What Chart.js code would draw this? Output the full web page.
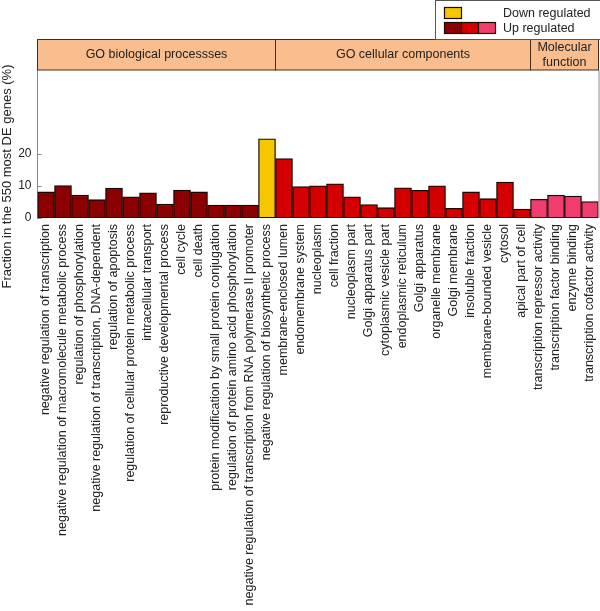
<!DOCTYPE html>
<html lang="en">
<head>
  <meta charset="UTF-8" />
  <title>GO enrichment</title>
  <script src="https://cdn.jsdelivr.net/npm/chart.js"></script>
  <style>
    html, body { margin: 0; padding: 0; background: #ffffff; }
    #wrap { width: 600px; height: 611px; }
  </style>
</head>
<body>
  <div id="wrap"><canvas id="goChart" width="600" height="611"></canvas></div>

  <script>
    const categories = [
      "negative regulation of transcription",
      "negative regulation of macromolecule metabolic process",
      "regulation of phosphorylation",
      "negative regulation of transcription, DNA-dependent",
      "regulation of apoptosis",
      "regulation of cellular protein metabolic process",
      "intracellular transport",
      "reproductive developmental process",
      "cell cycle",
      "cell death",
      "protein modification by small protein conjugation",
      "regulation of protein amino acid phosphorylation",
      "negative regulation of transcription from RNA polymerase II promoter",
      "negative regulation of biosynthetic process",
      "membrane-enclosed lumen",
      "endomembrane system",
      "nucleoplasm",
      "cell fraction",
      "nucleoplasm part",
      "Golgi apparatus part",
      "cytoplasmic vesicle part",
      "endoplasmic reticulum",
      "Golgi apparatus",
      "organelle membrane",
      "Golgi membrane",
      "insoluble fraction",
      "membrane-bounded vesicle",
      "cytosol",
      "apical part of cell",
      "transcription repressor activity",
      "transcription factor binding",
      "enzyme binding",
      "transcription cofactor activity"
    ];

    const values = [
      8.1, 10.1, 7.1, 5.7, 9.3, 6.6, 7.8, 4.3, 8.7, 8.1, 4.0, 4.0, 4.0, 24.6,
      18.5, 9.8, 10.0, 10.6, 6.6, 4.2, 3.2, 9.4, 8.6, 10.0, 3.0, 8.1, 6.0, 11.2, 2.8,
      5.8, 7.1, 6.8, 5.1
    ];

    // BP = biological process, CC = cellular component, MF = molecular function
    const ontology = [
      "BP","BP","BP","BP","BP","BP","BP","BP","BP","BP","BP","BP","BP","BP",
      "CC","CC","CC","CC","CC","CC","CC","CC","CC","CC","CC","CC","CC","CC","CC",
      "MF","MF","MF","MF"
    ];

    const regulation = [
      "up","up","up","up","up","up","up","up","up","up","up","up","up","down",
      "up","up","up","up","up","up","up","up","up","up","up","up","up","up","up",
      "up","up","up","up"
    ];

    const groupOrder = ["BP", "CC", "MF"];
    const groupTitles = [["GO biological processses"], ["GO cellular components"], ["Molecular", "function"]];
    const legendLabels = ["Down regulated", "Up regulated"];
    const yTicks = [0, 10, 20];
    const yMax = 46;
    const yTitle = "Fraction in the 550 most DE genes (%)";

    const upColors = { BP: "#8b0000", CC: "#d40000", MF: "#f03c6e" };
    const downColor = "#f6c700";
    const FONT = "'Liberation Sans', Arial, sans-serif";

    const barColors = categories.map((c, i) =>
      regulation[i] === "down" ? downColor : upColors[ontology[i]]);

    const decorations = {
      id: "decorations",
      afterDraw(chart) {
        const ctx = chart.ctx;
        const area = chart.chartArea;
        const x = chart.scales.x;
        const y = chart.scales.y;
        const half = (x.getPixelForValue(1) - x.getPixelForValue(0)) / 2;
        ctx.save();

        // right frame line
        ctx.strokeStyle = "#8a8a8a";
        ctx.lineWidth = 1;
        ctx.beginPath();
        ctx.moveTo(area.right + 0.5, area.top);
        ctx.lineTo(area.right + 0.5, area.bottom);
        ctx.stroke();

        // inward tick marks
        yTicks.forEach(v => {
          const py = Math.round(y.getPixelForValue(v)) + 0.5;
          ctx.beginPath();
          ctx.moveTo(area.left, py);
          ctx.lineTo(area.left + 4, py);
          ctx.stroke();
        });

        // header band
        const hTop = 39.5;
        const hBot = area.top;
        ctx.font = "12.5px " + FONT;
        ctx.textAlign = "center";
        ctx.textBaseline = "middle";
        groupOrder.forEach((g, gi) => {
          const first = ontology.indexOf(g);
          const last = ontology.lastIndexOf(g);
          const l = x.getPixelForValue(first) - half;
          const r = x.getPixelForValue(last) + half;
          ctx.fillStyle = "#f9bd8e";
          ctx.fillRect(l, hTop, r - l, hBot - hTop);
          ctx.strokeStyle = "#4a2a18";
          ctx.lineWidth = 1;
          ctx.strokeRect(l, hTop, r - l, hBot - hTop);
          ctx.fillStyle = "#222222";
          const lines = groupTitles[gi];
          const mid = (hTop + hBot) / 2;
          lines.forEach((t, li) => {
            ctx.fillText(t, (l + r) / 2, mid + (li - (lines.length - 1) / 2) * 15);
          });
        });

        // legend
        ctx.fillStyle = "#ffffff";
        ctx.fillRect(435, 0.5, 170, 39);
        ctx.strokeStyle = "#555555";
        ctx.strokeRect(435.5, 0.5, 170, 39);
        ctx.strokeStyle = "#1a0a00";
        ctx.lineWidth = 1.2;
        ctx.fillStyle = downColor;
        ctx.fillRect(444.5, 7.5, 17, 11);
        ctx.strokeRect(444.5, 7.5, 17, 11);
        groupOrder.forEach((g, gi) => {
          ctx.fillStyle = upColors[g];
          ctx.fillRect(444.5 + gi * 17, 22.5, 17, 11);
          ctx.strokeRect(444.5 + gi * 17, 22.5, 17, 11);
        });
        ctx.fillStyle = "#222222";
        ctx.textAlign = "left";
        ctx.font = "12.5px " + FONT;
        ctx.fillText(legendLabels[0], 503, 13.5);
        ctx.fillText(legendLabels[1], 503, 28.5);

        // y axis title
        ctx.font = "13px " + FONT;
        ctx.translate(7, 176.5);
        ctx.rotate(-Math.PI / 2);
        ctx.textAlign = "center";
        ctx.fillText(yTitle, 0, 0);
        ctx.restore();
      }
    };

    new Chart(document.getElementById("goChart").getContext("2d"), {
      type: "bar",
      data: {
        labels: categories,
        datasets: [{
          data: values,
          backgroundColor: barColors,
          borderColor: "#1a0800",
          borderWidth: 1.3,
          borderSkipped: false,
          categoryPercentage: 1,
          barPercentage: 1
        }]
      },
      plugins: [decorations],
      options: {
        responsive: false,
        animation: false,
        layout: { padding: { top: 70, right: 1.5, left: 0, bottom: 0 } },
        plugins: {
          legend: { display: false },
          tooltip: { enabled: false }
        },
        scales: {
          x: {
            grid: { display: false, drawTicks: false },
            border: { display: false },
            ticks: {
              autoSkip: false,
              maxRotation: 90,
              minRotation: 90,
              padding: 6,
              color: "#222222",
              font: { family: FONT, size: 12.5 }
            },
            afterFit(scale) {
              scale.height = 393;
              scale.paddingLeft = 0;
              scale.paddingRight = 0;
            }
          },
          y: {
            min: 0,
            max: yMax,
            grid: { display: false, drawTicks: false },
            border: { display: true, color: "#8a8a8a", width: 1 },
            afterBuildTicks(axis) { axis.ticks = yTicks.map(v => ({ value: v })); },
            ticks: {
              padding: 6,
              color: "#222222",
              font: { family: FONT, size: 12 }
            },
            afterFit(scale) { scale.width = 37.5; }
          }
        }
      }
    });
  </script>
</body>
</html>
